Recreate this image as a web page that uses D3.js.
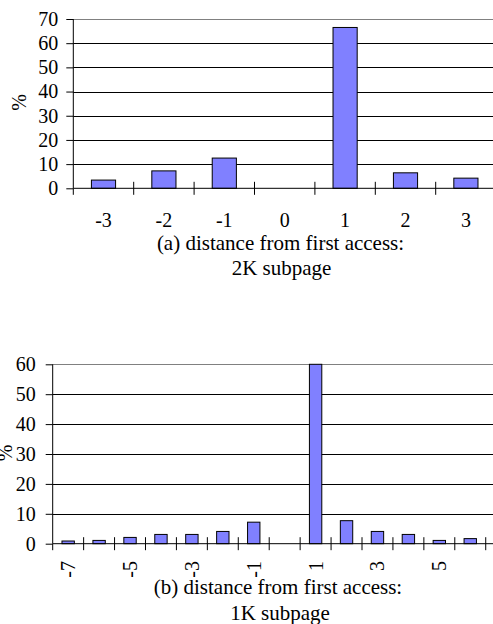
<!DOCTYPE html>
<html>
<head>
<meta charset="utf-8">
<script src="https://cdn.jsdelivr.net/npm/d3@7/dist/d3.min.js"></script>
<style>
  html, body { margin: 0; padding: 0; background: #fff; }
  svg { display: block; }
</style>
</head>
<body>
<svg id="chart" width="493" height="624"></svg>
<script>
// Panel (a): 2K subpage
const catsA = [-3, -2, -1, 0, 1, 2, 3];
const valsA = [3.4, 7.2, 12.5, 0, 66.5, 6.4, 4.2];
const yTicksA = [0, 10, 20, 30, 40, 50, 60, 70];

// Panel (b): 1K subpage
const catsB = [-7, -6, -5, -4, -3, -2, -1, 0, 1, 2, 3, 4, 5, 6, 7];
const valsB = [0.9, 1.1, 2.1, 3.1, 3.1, 4.1, 7.2, 0, 60, 7.7, 4.1, 3.1, 1.1, 1.7, 1.0];
const yTicksB = [0, 10, 20, 30, 40, 50, 60];
const labelsB = [-7, -5, -3, -1, 1, 3, 5, 7];

const FONT = "'Liberation Serif'";
const svg = d3.select("#chart");
const W = 493;

function serif(sel, size) {
  return sel.style("font-family", FONT).style("font-size", size + "px").attr("fill", "#000");
}

function panel(opt) {
  const g = svg.append("g");
  const x = d3.scaleBand().domain(opt.cats).range([opt.x0, opt.x0 + opt.step * opt.cats.length]).padding(0);
  const y = d3.scaleLinear().domain([0, opt.ymax]).range([opt.yBottom, opt.yTop]);

  // horizontal gridlines
  g.selectAll("line.grid").data(opt.yTicks.filter(d => d > 0)).join("line")
    .attr("x1", opt.x0).attr("x2", W)
    .attr("y1", d => Math.round(y(d)) + 0.5).attr("y2", d => Math.round(y(d)) + 0.5)
    .attr("stroke", d => d === opt.ymax ? "#808080" : "#000")
    .attr("stroke-width", 1);

  // bars
  const bw = x.bandwidth() * 0.4;
  g.selectAll("rect.bar").data(opt.cats.map((c, i) => ({ c, v: opt.vals[i] })).filter(d => d.v > 0)).join("rect")
    .attr("x", d => x(d.c) + (x.bandwidth() - bw) / 2)
    .attr("y", d => y(d.v))
    .attr("width", bw)
    .attr("height", d => y(0) - y(d.v))
    .attr("fill", "#8080FF")
    .attr("stroke", "#000")
    .attr("stroke-width", 1);

  // y axis
  const ya = d3.axisLeft(y).tickValues(opt.yTicks).tickSize(7).tickPadding(opt.pad);
  const yg = g.append("g").attr("transform", `translate(${opt.x0},0)`).call(ya);
  yg.select(".domain").remove();
  yg.selectAll(".tick line").attr("stroke", "#000");
  serif(yg.selectAll(".tick text"), opt.fs);
  g.append("line").attr("x1", opt.x0).attr("x2", opt.x0)
    .attr("y1", opt.yTop).attr("y2", opt.yBottom).attr("stroke", "#000");

  // x axis line and crossing tick marks at category boundaries
  g.append("line").attr("x1", opt.x0).attr("x2", W)
    .attr("y1", y(0)).attr("y2", y(0)).attr("stroke", "#000");
  const bounds = opt.cats.map(c => x(c));
  g.selectAll("line.xt").data(bounds).join("line")
    .attr("x1", d => d).attr("x2", d => d)
    .attr("y1", (d, i) => i === 0 ? y(0) : y(0) - 6.5)
    .attr("y2", y(0) + 6.5)
    .attr("stroke", "#000");

  // y axis title
  serif(g.append("text")
    .attr("transform", `translate(${opt.pctX},${opt.pctY}) rotate(-90)`)
    .attr("text-anchor", "middle").attr("dy", "0.35em"), opt.fs).text("%");

  return { g, x, y };
}

// (a)
const a = panel({ cats: catsA, vals: valsA, yTicks: yTicksA, ymax: 70,
  x0: 73.3, step: 60.4, yTop: 19, yBottom: 188.3, fs: 20, pad: 8, pctX: 18.5, pctY: 102.5 });
serif(a.g.selectAll("text.xl").data(catsA).join("text")
  .attr("x", d => a.x(d) + a.x.bandwidth() / 2)
  .attr("y", 227).attr("text-anchor", "middle"), 20)
  .text(d => d);
serif(a.g.append("text").attr("x", 280.5).attr("y", 250).attr("text-anchor", "middle"), 21)
  .text("(a) distance from first access:");
serif(a.g.append("text").attr("x", 281.5).attr("y", 275).attr("text-anchor", "middle"), 21)
  .text("2K subpage");

// (b)
const b = panel({ cats: catsB, vals: valsB, yTicks: yTicksB, ymax: 60,
  x0: 52.7, step: 30.93, yTop: 364.3, yBottom: 543.7, fs: 20, pad: 10, pctX: 5, pctY: 453 });
serif(b.g.selectAll("text.xl").data(labelsB).join("text")
  .attr("transform", d => `translate(${b.x(d) + b.x.bandwidth() / 2},561) rotate(-90)`)
  .attr("text-anchor", "end").attr("dy", "0.35em"), 20)
  .text(d => d);
serif(b.g.append("text").attr("x", 278).attr("y", 594).attr("text-anchor", "middle"), 21)
  .text("(b) distance from first access:");
serif(b.g.append("text").attr("x", 280).attr("y", 620).attr("text-anchor", "middle"), 21)
  .text("1K subpage");
</script>
</body>
</html>
